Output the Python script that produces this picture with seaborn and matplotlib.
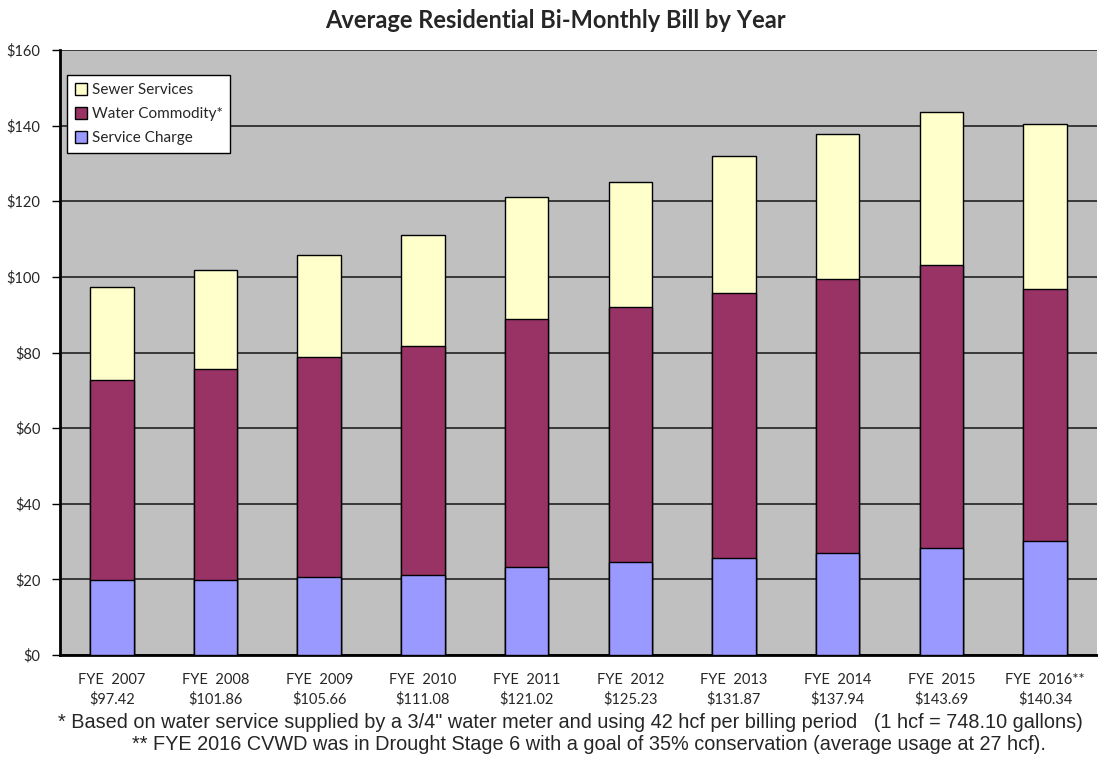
import numpy as np
import pandas as pd
import matplotlib
matplotlib.use("Agg")
import matplotlib.pyplot as plt
import seaborn as sns
from matplotlib.patches import Patch
from matplotlib.ticker import FixedLocator

years = ["FYE  2007", "FYE  2008", "FYE  2009", "FYE  2010", "FYE  2011",
         "FYE  2012", "FYE  2013", "FYE  2014", "FYE  2015", "FYE  2016**"]
total_labels = ["$97.42", "$101.86", "$105.66", "$111.08", "$121.02",
                "$125.23", "$131.87", "$137.94", "$143.69", "$140.34"]
service_charge = [19.8, 19.8, 20.6, 21.2, 23.3, 24.6, 25.7, 27.0, 28.3, 30.2]
water_commodity = [53.0, 55.9, 58.2, 60.5, 65.6, 67.5, 70.1, 72.5, 74.9, 66.6]
sewer_services = [24.6, 26.2, 26.9, 29.4, 32.1, 33.1, 36.1, 38.4, 40.5, 43.5]

c_service = "#9999FF"
c_water = "#993366"
c_sewer = "#FFFFCC"

df = pd.DataFrame({"year": years, "service": service_charge,
                   "water": water_commodity, "sewer": sewer_services})
df["lvl2"] = df["service"] + df["water"]
df["lvl3"] = df["lvl2"] + df["sewer"]

sns.set_style("white")
plt.rcParams["font.family"] = ["Lato", "DejaVu Sans"]

fig = plt.figure(figsize=(10.98, 7.6), dpi=100)
ax = fig.add_axes([60 / 1098, 1 - 655 / 760, 1 - 60 / 1098 - 0.001, 605 / 760])
ax.set_facecolor("#C0C0C0")

# stacked bars drawn back to front (cumulative heights)
bar_kw = dict(width=0.42, edgecolor="black", linewidth=1.0, ax=ax, zorder=3)
sns.barplot(data=df, x="year", y="lvl3", color=c_sewer, saturation=1, **bar_kw)
sns.barplot(data=df, x="year", y="lvl2", color=c_water, saturation=1, **bar_kw)
sns.barplot(data=df, x="year", y="service", color=c_service, saturation=1, **bar_kw)

ax.set_xlim(-0.5, len(years) - 0.5)
ax.set_ylim(0, 160)
ax.set_yticks(np.arange(0, 161, 20))
ax.set_yticklabels([f"${v}" for v in range(0, 161, 20)], fontsize=10.5)
ax.yaxis.grid(True, color="#222222", linewidth=1.2, zorder=1)
ax.set_axisbelow(True)

ax.set_xticks(range(len(years)))
ax.set_xticklabels([f"{y}\n{t}" for y, t in zip(years, total_labels)],
                   fontsize=10.5, linespacing=1.45)
ax.tick_params(axis="x", which="major", length=0, pad=13)
ax.xaxis.set_minor_locator(FixedLocator(np.arange(-0.5, len(years), 1.0)))
ax.tick_params(axis="x", which="minor", length=6, width=1.2, color="black",
               direction="out")
ax.tick_params(axis="y", length=6, width=1, color="black", direction="out",
               left=True, pad=8)
ax.set_xlabel("")
ax.set_ylabel("")

for side in ["top", "right"]:
    ax.spines[side].set_visible(False)
for side in ["left", "bottom"]:
    ax.spines[side].set_color("black")
    ax.spines[side].set_linewidth(2)

handles = [Patch(facecolor=c_sewer, edgecolor="black", label="Sewer Services"),
           Patch(facecolor=c_water, edgecolor="black", label="Water Commodity*"),
           Patch(facecolor=c_service, edgecolor="black", label="Service Charge")]
leg = ax.legend(handles=handles, loc="upper left", bbox_to_anchor=(0.007, 0.958),
                fontsize=11, frameon=True, fancybox=False, framealpha=1,
                edgecolor="black", handlelength=0.8, handleheight=0.8,
                handletextpad=0.3, borderpad=0.5, labelspacing=0.65,
                borderaxespad=0)
leg.get_frame().set_linewidth(1.0)

fig.text(555 / 1098, 1 - 20 / 760, "Average Residential Bi-Monthly Bill by Year",
         ha="center", va="center", fontsize=17, fontweight="bold")

fig.text(570 / 1098, 1 - 722 / 760,
         '* Based on water service supplied by a 3/4" water meter and using 42 hcf per billing period   (1 hcf = 748.10 gallons)',
         ha="center", va="center", fontsize=14.3, family=["Liberation Sans", "DejaVu Sans"])
fig.text(589 / 1098, 1 - 745 / 760,
         "** FYE 2016 CVWD was in Drought Stage 6 with a goal of 35% conservation (average usage at 27 hcf).",
         ha="center", va="center", fontsize=14.3, family=["Liberation Sans", "DejaVu Sans"])

fig.savefig("out.png", dpi=100, facecolor="white")
